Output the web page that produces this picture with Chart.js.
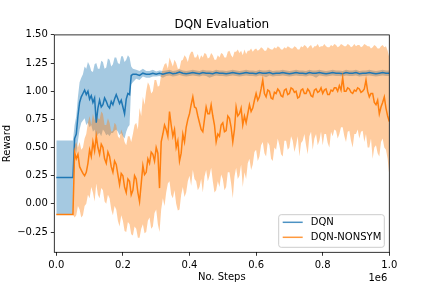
<!DOCTYPE html>
<html>
<head>
<meta charset="utf-8">
<script src="https://cdn.jsdelivr.net/npm/chart.js@4"></script>
<style>
  html, body { margin: 0; padding: 0; background: #fff; }
  canvas { display: block; }
</style>
</head>
<body>
<canvas id="chart" width="432" height="288"></canvas>
<script>
// evaluation steps, in thousands
const dqnSteps = [
  0, 10, 20, 30, 40, 50,
  55, 60, 65, 70, 75, 80, 85, 90, 95, 100, 105, 110, 115, 120, 125, 130, 135, 140,
  145, 150, 155, 160, 165, 170, 175, 180, 185, 190, 195, 200, 205, 210, 215, 220, 225, 230,
  240, 250, 260, 270, 280, 290, 300,
  310, 320, 330, 340, 350, 360, 370, 380, 390, 400,
  410, 420, 430, 440, 450, 460, 470, 480, 490, 500,
  510, 520, 530, 540, 550, 560, 570, 580, 590, 600,
  610, 620, 630, 640, 650, 660, 670, 680, 690, 700,
  710, 720, 730, 740, 750, 760, 770, 780, 790, 800,
  810, 820, 830, 840, 850, 860, 870, 880, 890, 900,
  910, 920, 930, 940, 950, 960, 970, 980, 990, 1000
];
const dqnMean = [
  0.235, 0.235, 0.235, 0.235, 0.235, 0.235,
  0.58, 0.62, 0.78, 0.90, 0.95, 0.98, 1.01, 0.97, 1.00, 0.93, 0.96, 0.90, 0.94, 0.72, 0.85, 0.92, 0.86, 0.88,
  0.94, 0.91, 0.87, 0.85, 0.91, 0.88, 0.93, 0.97, 0.93, 0.89, 0.92, 0.86, 0.80, 0.93, 0.98, 0.97, 1.14, 1.15,
  1.15, 1.14, 1.16, 1.15, 1.15, 1.16, 1.15,
  1.16, 1.15, 1.16, 1.165, 1.155, 1.16, 1.17, 1.16, 1.155, 1.16,
  1.165, 1.16, 1.155, 1.165, 1.16, 1.16, 1.155, 1.165, 1.16, 1.16,
  1.155, 1.16, 1.165, 1.16, 1.155, 1.16, 1.165, 1.16, 1.16, 1.155,
  1.165, 1.16, 1.16, 1.165, 1.155, 1.16, 1.16, 1.165, 1.16, 1.155,
  1.16, 1.165, 1.16, 1.16, 1.155, 1.165, 1.16, 1.16, 1.165, 1.16,
  1.155, 1.16, 1.165, 1.16, 1.16, 1.155, 1.165, 1.16, 1.16, 1.165,
  1.155, 1.16, 1.16, 1.165, 1.16, 1.155, 1.16, 1.165, 1.16, 1.16
];
const dqnLow = [
  -0.094, -0.094, -0.094, -0.094, -0.094, -0.094,
  0.48, 0.45, 0.56, 0.66, 0.72, 0.74, 0.76, 0.70, 0.72, 0.68, 0.70, 0.64, 0.66, 0.58, 0.62, 0.63, 0.60, 0.66,
  0.64, 0.61, 0.62, 0.60, 0.63, 0.63, 0.65, 0.66, 0.64, 0.61, 0.63, 0.60, 0.58, 0.64, 0.68, 0.70, 1.06, 1.08,
  1.11, 1.10, 1.13, 1.12, 1.12, 1.13, 1.13,
  1.135, 1.12, 1.135, 1.14, 1.13, 1.135, 1.145, 1.135, 1.13, 1.135,
  1.14, 1.135, 1.13, 1.14, 1.135, 1.12, 1.13, 1.14, 1.135, 1.135,
  1.13, 1.135, 1.14, 1.135, 1.13, 1.135, 1.14, 1.135, 1.135, 1.13,
  1.14, 1.135, 1.125, 1.14, 1.13, 1.135, 1.135, 1.14, 1.135, 1.13,
  1.135, 1.14, 1.135, 1.135, 1.13, 1.14, 1.135, 1.12, 1.14, 1.135,
  1.13, 1.135, 1.14, 1.135, 1.135, 1.13, 1.14, 1.135, 1.135, 1.14,
  1.13, 1.135, 1.135, 1.14, 1.135, 1.13, 1.135, 1.14, 1.135, 1.135
];
const dqnHigh = [
  0.563, 0.563, 0.563, 0.563, 0.563, 0.563,
  0.70, 0.78, 0.95, 1.08, 1.12, 1.15, 1.22, 1.20, 1.26, 1.23, 1.18, 1.17, 1.24, 1.25, 1.20, 1.20, 1.27, 1.26,
  1.20, 1.21, 1.29, 1.28, 1.22, 1.24, 1.30, 1.30, 1.25, 1.24, 1.31, 1.31, 1.26, 1.28, 1.32, 1.30, 1.22, 1.20,
  1.19, 1.18, 1.20, 1.18, 1.18, 1.19, 1.175,
  1.185, 1.18, 1.185, 1.19, 1.18, 1.185, 1.195, 1.185, 1.18, 1.185,
  1.19, 1.185, 1.18, 1.19, 1.185, 1.185, 1.18, 1.19, 1.185, 1.185,
  1.18, 1.185, 1.19, 1.185, 1.18, 1.185, 1.19, 1.185, 1.185, 1.18,
  1.19, 1.185, 1.185, 1.19, 1.18, 1.185, 1.185, 1.19, 1.185, 1.18,
  1.185, 1.19, 1.185, 1.185, 1.18, 1.19, 1.185, 1.185, 1.19, 1.185,
  1.18, 1.185, 1.19, 1.185, 1.185, 1.18, 1.19, 1.185, 1.185, 1.19,
  1.18, 1.185, 1.185, 1.19, 1.185, 1.18, 1.185, 1.19, 1.185, 1.185
];

// every 5k steps, ten values per row (0-45k, 50-95k, ...)
const nonsymSteps = [
  0, 5, 10, 15, 20, 25, 30, 35, 40, 45,
  50, 55, 60, 65, 70, 75, 80, 85, 90, 95,
  100, 105, 110, 115, 120, 125, 130, 135, 140, 145,
  150, 155, 160, 165, 170, 175, 180, 185, 190, 195,
  200, 205, 210, 215, 220, 225, 230, 235, 240, 245,
  250, 255, 260, 265, 270, 275, 280, 285, 290, 295,
  300, 305, 310, 315, 320, 325, 330, 335, 340, 345,
  350, 355, 360, 365, 370, 375, 380, 385, 390, 395,
  400, 405, 410, 415, 420, 425, 430, 435, 440, 445,
  450, 455, 460, 465, 470, 475, 480, 485, 490, 495,
  500, 505, 510, 515, 520, 525, 530, 535, 540, 545,
  550, 555, 560, 565, 570, 575, 580, 585, 590, 595,
  600, 605, 610, 615, 620, 625, 630, 635, 640, 645,
  650, 655, 660, 665, 670, 675, 680, 685, 690, 695,
  700, 705, 710, 715, 720, 725, 730, 735, 740, 745,
  750, 755, 760, 765, 770, 775, 780, 785, 790, 795,
  800, 805, 810, 815, 820, 825, 830, 835, 840, 845,
  850, 855, 860, 865, 870, 875, 880, 885, 890, 895,
  900, 905, 910, 915, 920, 925, 930, 935, 940, 945,
  950, 955, 960, 965, 970, 975, 980, 985, 990, 995,
  1000
];
const nonsymMean = [
  -0.094, -0.094, -0.094, -0.094, -0.094, -0.094, -0.094, -0.094, -0.094, -0.094,
  -0.094, 0.46, 0.40, 0.44, 0.33, 0.30, 0.27, 0.25, 0.28, 0.36,
  0.48, 0.42, 0.55, 0.47, 0.60, 0.50, 0.44, 0.53, 0.50, 0.40,
  0.36, 0.46, 0.42, 0.33, 0.28, 0.38, 0.35, 0.26, 0.17, 0.27,
  0.25, 0.15, 0.10, 0.22, 0.20, 0.08, 0.12, 0.25, 0.22, 0.10,
  0.02, 0.18, 0.34, 0.26, 0.28, 0.40, 0.36, 0.46, 0.44, 0.38,
  0.50, 0.45, 0.14, 0.55, 0.62, 0.70, 0.66, 0.60, 0.82, 0.70,
  0.60, 0.66, 0.50, 0.56, 0.38, 0.45, 0.62, 0.55, 0.68, 0.75,
  0.80, 0.88, 0.95, 0.86, 0.85, 0.78, 0.72, 0.66, 0.64, 0.75,
  0.86, 0.80, 0.80, 0.88, 0.78, 0.70, 0.55, 0.62, 0.60, 0.70,
  0.72, 0.64, 0.65, 0.78, 0.76, 0.68, 0.55, 0.66, 0.86, 0.78,
  0.80, 0.85, 0.70, 0.78, 0.72, 0.80, 0.88, 0.82, 0.85, 0.92,
  0.98, 0.92, 0.95, 1.02, 1.10, 0.98, 0.95, 1.01, 1.00, 0.94,
  0.93, 0.99, 0.98, 1.02, 1.00, 0.96, 0.95, 1.01, 1.02, 0.97,
  0.98, 1.03, 1.02, 0.99, 1.00, 0.94, 0.95, 1.01, 1.02, 0.98,
  0.98, 1.02, 1.00, 0.96, 0.95, 1.01, 1.02, 0.99, 1.00, 1.03,
  0.98, 1.01, 1.02, 0.97, 0.97, 1.01, 1.00, 1.03, 1.03, 1.00,
  1.05, 1.01, 1.12, 1.00, 1.00, 1.03, 1.02, 0.99, 0.98, 1.01,
  1.00, 1.03, 1.02, 0.99, 1.00, 1.02, 1.10, 1.00, 0.95, 0.98,
  0.98, 0.90, 0.88, 0.92, 0.80, 0.86, 0.90, 0.95, 0.85, 0.78,
  0.73
];
const nonsymLow = [
  -0.094, -0.094, -0.094, -0.094, -0.094, -0.094, -0.094, -0.094, -0.094, -0.094,
  -0.094, -0.12, -0.10, -0.02, -0.05, -0.12, -0.10, -0.02, 0.00, 0.08,
  0.05, 0.15, 0.10, 0.02, 0.18, 0.08, 0.05, 0.14, 0.12, 0.02,
  0.00, 0.08, 0.05, -0.05, -0.10, -0.02, -0.05, -0.15, -0.20, -0.10,
  -0.15, -0.24, -0.25, -0.16, -0.18, -0.27, -0.28, -0.20, -0.22, -0.30,
  -0.30, -0.22, -0.18, -0.26, -0.25, -0.15, -0.12, -0.22, -0.20, -0.08,
  -0.05, -0.18, -0.25, -0.05, 0.05, -0.02, 0.10, 0.18, 0.20, 0.08,
  0.05, 0.12, 0.00, -0.06, -0.05, 0.08, 0.15, 0.06, 0.10, 0.20,
  0.25, 0.16, 0.30, 0.22, 0.20, 0.12, 0.15, 0.22, 0.10, 0.24,
  0.30, 0.20, 0.25, 0.32, 0.20, 0.10, 0.12, 0.20, 0.15, 0.26,
  0.22, 0.12, 0.15, 0.28, 0.28, 0.18, 0.05, 0.24, 0.32, 0.22,
  0.25, 0.35, 0.15, 0.28, 0.22, 0.36, 0.40, 0.30, 0.35, 0.46,
  0.48, 0.38, 0.42, 0.52, 0.55, 0.45, 0.42, 0.55, 0.52, 0.40,
  0.38, 0.50, 0.48, 0.58, 0.52, 0.44, 0.42, 0.56, 0.56, 0.48,
  0.50, 0.60, 0.56, 0.46, 0.52, 0.60, 0.42, 0.54, 0.56, 0.62,
  0.52, 0.44, 0.60, 0.64, 0.48, 0.58, 0.62, 0.52, 0.56, 0.64,
  0.52, 0.62, 0.62, 0.54, 0.50, 0.64, 0.60, 0.66, 0.65, 0.58,
  0.62, 0.68, 0.68, 0.60, 0.55, 0.64, 0.65, 0.56, 0.50, 0.62,
  0.62, 0.66, 0.58, 0.64, 0.65, 0.55, 0.62, 0.50, 0.50, 0.58,
  0.40, 0.50, 0.52, 0.45, 0.42, 0.55, 0.58, 0.50, 0.48, 0.40,
  0.25
];
const nonsymHigh = [
  -0.094, -0.094, -0.094, -0.094, -0.094, -0.094, -0.094, -0.094, -0.094, -0.094,
  -0.094, 0.52, 0.55, 0.50, 0.55, 0.48, 0.50, 0.58, 0.62, 0.72,
  0.78, 0.70, 0.80, 0.74, 0.82, 0.76, 0.75, 0.82, 0.80, 0.70,
  0.70, 0.76, 0.72, 0.64, 0.65, 0.72, 0.70, 0.60, 0.58, 0.66,
  0.62, 0.55, 0.52, 0.60, 0.60, 0.55, 0.62, 0.70, 0.72, 0.66,
  0.85, 0.78, 0.95, 0.88, 1.00, 1.08, 1.05, 0.98, 1.00, 1.10,
  1.10, 1.04, 1.05, 1.15, 1.20, 1.24, 1.25, 1.20, 1.30, 1.26,
  1.22, 1.28, 1.25, 1.20, 1.20, 1.27, 1.28, 1.32, 1.30, 1.26,
  1.32, 1.35, 1.35, 1.30, 1.30, 1.33, 1.28, 1.32, 1.30, 1.34,
  1.33, 1.29, 1.30, 1.34, 1.32, 1.28, 1.28, 1.32, 1.30, 1.34,
  1.33, 1.30, 1.30, 1.35, 1.36, 1.32, 1.30, 1.35, 1.35, 1.37,
  1.34, 1.36, 1.32, 1.37, 1.33, 1.36, 1.36, 1.38, 1.35, 1.37,
  1.38, 1.36, 1.37, 1.39, 1.38, 1.36, 1.36, 1.39, 1.38, 1.37,
  1.37, 1.39, 1.38, 1.40, 1.39, 1.37, 1.37, 1.39, 1.38, 1.40,
  1.39, 1.38, 1.38, 1.40, 1.39, 1.37, 1.37, 1.40, 1.39, 1.41,
  1.40, 1.38, 1.40, 1.41, 1.38, 1.40, 1.40, 1.42, 1.39, 1.40,
  1.40, 1.42, 1.40, 1.39, 1.39, 1.41, 1.40, 1.42, 1.41, 1.39,
  1.40, 1.42, 1.41, 1.40, 1.40, 1.42, 1.41, 1.39, 1.40, 1.42,
  1.40, 1.41, 1.41, 1.39, 1.40, 1.42, 1.41, 1.40, 1.40, 1.38,
  1.39, 1.41, 1.40, 1.38, 1.38, 1.40, 1.41, 1.39, 1.40, 1.36,
  1.30
];

const xTicks = [0, 200, 400, 600, 800, 1000];
const yTicks = [-0.25, 0, 0.25, 0.5, 0.75, 1.0, 1.25, 1.5];

const pts = (xs, ys) => xs.map((s, i) => ({x: s, y: ys[i]}));

const line = (label, xs, ys, color, order) => ({
  label: label, data: pts(xs, ys), borderColor: color, borderWidth: 1.5,
  pointRadius: 0, fill: false, order: order
});
const band = (xs, ys, fill, color) => ({
  data: pts(xs, ys), borderColor: 'rgba(0,0,0,0)', borderWidth: 0,
  pointRadius: 0, fill: fill, backgroundColor: color, order: 2
});

// spines, offset text and the legend box, matplotlib style
const extras = {
  id: 'extras',
  afterDraw(chart) {
    const {ctx, chartArea: a} = chart;
    ctx.save();
    ctx.strokeStyle = '#000';
    ctx.lineWidth = 0.8;
    ctx.strokeRect(a.left, a.top, a.right - a.left, a.bottom - a.top);

    ctx.fillStyle = '#000';
    ctx.font = '10px "DejaVu Sans"';
    ctx.textAlign = 'right';
    ctx.textBaseline = 'middle';
    ctx.fillText('1e6', a.right - 2, a.bottom + 26);

    const w = 105.6, h = 32.6;
    const bx = a.right - 5 - w, by = a.bottom - 5 - h;
    ctx.fillStyle = 'rgba(255,255,255,0.8)';
    ctx.strokeStyle = '#cccccc';
    ctx.lineWidth = 1;
    ctx.beginPath();
    if (ctx.roundRect) ctx.roundRect(bx, by, w, h, 2.5); else ctx.rect(bx, by, w, h);
    ctx.fill();
    ctx.stroke();

    const items = [['DQN', 'rgba(31,119,180,0.8)'], ['DQN-NONSYM', 'rgba(255,127,14,0.8)']];
    items.forEach((it, i) => {
      const y = by + 7.6 + i * 15;
      ctx.strokeStyle = it[1];
      ctx.lineWidth = 1.5;
      ctx.beginPath();
      ctx.moveTo(bx + 4, y);
      ctx.lineTo(bx + 24, y);
      ctx.stroke();
      ctx.fillStyle = '#000';
      ctx.textAlign = 'left';
      ctx.fillText(it[0], bx + 32, y);
    });
    ctx.restore();
  }
};

Chart.defaults.font.family = '"DejaVu Sans", sans-serif';
Chart.defaults.font.size = 10;
Chart.defaults.color = '#000';

new Chart(document.getElementById('chart'), {
  type: 'line',
  data: {
    datasets: [
      line('DQN', dqnSteps, dqnMean, '#1f77b4', 1),
      line('DQN-NONSYM', nonsymSteps, nonsymMean, '#ff7f0e', 0),
      band(nonsymSteps, nonsymHigh, '+1', 'rgba(255,127,14,0.4)'),
      band(nonsymSteps, nonsymLow, false, 'rgba(255,127,14,0.4)'),
      band(dqnSteps, dqnHigh, '+1', 'rgba(31,119,180,0.4)'),
      band(dqnSteps, dqnLow, false, 'rgba(31,119,180,0.4)')
    ]
  },
  options: {
    responsive: false,
    animation: false,
    layout: {padding: {left: 0, right: 42.7, top: 0, bottom: 0}},
    plugins: {
      legend: {display: false},
      tooltip: {enabled: false},
      filler: {drawTime: 'beforeDatasetsDraw'},
      title: {
        display: true, text: 'DQN Evaluation', fullSize: false,
        font: {size: 12, weight: 'normal'}, color: '#000',
        padding: {top: 18, bottom: 2.5}
      }
    },
    scales: {
      x: {
        type: 'linear', min: -6, max: 1000,
        afterFit: (s) => { s.height = 35.7; },
        afterBuildTicks: (s) => { s.ticks = xTicks.map(v => ({value: v})); },
        ticks: {callback: (v) => (v / 1000).toFixed(1), padding: 3.5, maxRotation: 0},
        grid: {drawOnChartArea: false, tickLength: 3.5, tickWidth: 0.8, tickColor: '#000'},
        border: {display: false},
        title: {display: true, text: 'No. Steps', padding: {top: 0, bottom: 5}}
      },
      y: {
        min: -0.43, max: 1.5,
        afterFit: (s) => { s.width = 54.3; },
        afterBuildTicks: (s) => { s.ticks = yTicks.map(v => ({value: v})); },
        ticks: {callback: (v) => v.toFixed(2).replace('-', '\u2212'), padding: 3},
        grid: {drawOnChartArea: false, tickLength: 3.5, tickWidth: 0.8, tickColor: '#000'},
        border: {display: false},
        title: {display: true, text: 'Reward', padding: {top: 1, bottom: 0}}
      }
    }
  },
  plugins: [extras]
});
</script>
</body>
</html>
